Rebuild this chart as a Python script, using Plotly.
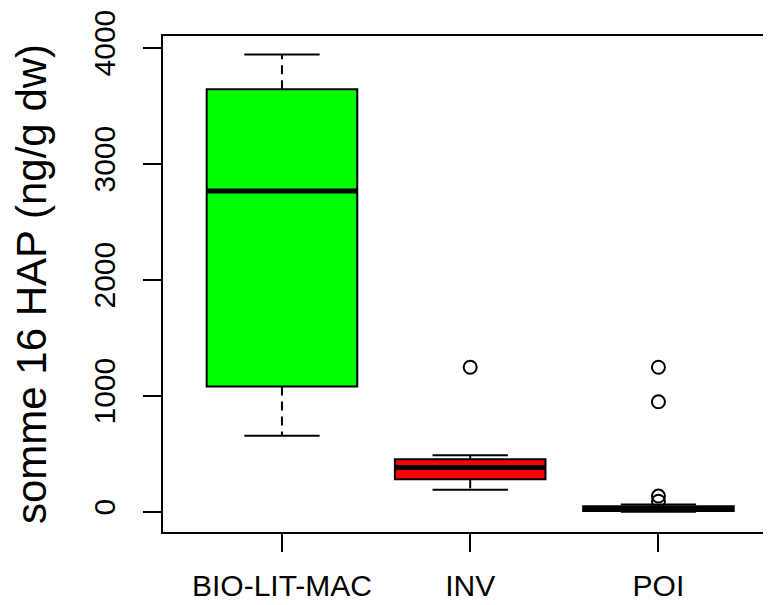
import plotly.graph_objects as go

# summary statistics (ng/g dw)
categories = ["BIO-LIT-MAC", "INV", "POI"]
box_colors = ["#00ff00", "#ff0000", "#0000ff"]
lower_whisker = [655, 190, 0]
q1 = [1078, 279, 5]
median = [2765, 381, 22]
q3 = [3641, 451, 48]
upper_whisker = [3940, 486, 63]

outlier_group = ["INV", "POI", "POI", "POI", "POI"]
outlier_value = [1245, 1245, 947, 135, 90]

y_ticks = [0, 1000, 2000, 3000, 4000]

BOX_HALF = 0.4
CAP_HALF = 0.2
FONT = "Liberation Sans, Arial, sans-serif"

pos = {c: i + 1 for i, c in enumerate(categories)}
xs = [pos[c] for c in categories]

fig = go.Figure()

# whiskers (dashed) and staples
wx, wy, cx, cy = [], [], [], []
for c, lo, a, b, hi in zip(categories, lower_whisker, q1, q3, upper_whisker):
    p = pos[c]
    wx += [p, p, None, p, p, None]
    wy += [b, hi, None, a, lo, None]
    cx += [p - CAP_HALF, p + CAP_HALF, None, p - CAP_HALF, p + CAP_HALF, None]
    cy += [hi, hi, None, lo, lo, None]

fig.add_trace(go.Scatter(x=wx, y=wy, mode="lines",
                         line=dict(color="black", width=2, dash="9px,6px"),
                         hoverinfo="skip"))
fig.add_trace(go.Scatter(x=cx, y=cy, mode="lines",
                         line=dict(color="black", width=2), hoverinfo="skip"))

# boxes
fig.add_trace(go.Bar(
    x=xs,
    y=[b - a for a, b in zip(q1, q3)],
    base=q1,
    width=2 * BOX_HALF,
    marker=dict(color=box_colors, line=dict(color="black", width=2)),
    hoverinfo="skip",
))

# medians
mx, my = [], []
for c, m in zip(categories, median):
    p = pos[c]
    mx += [p - BOX_HALF, p + BOX_HALF, None]
    my += [m, m, None]
fig.add_trace(go.Scatter(x=mx, y=my, mode="lines",
                         line=dict(color="black", width=5), hoverinfo="skip"))

# outliers
fig.add_trace(go.Scatter(
    x=[pos[g] for g in outlier_group],
    y=outlier_value,
    mode="markers",
    marker=dict(symbol="circle-open", size=13, color="black",
                line=dict(color="black", width=2)),
))

# page body has an 8px margin, so the figure is sized to end at the window edge
fig.update_layout(
    width=763,
    height=597,
    margin=dict(l=155, r=0, t=28, b=73),
    plot_bgcolor="white",
    paper_bgcolor="white",
    showlegend=False,
    font=dict(family=FONT, color="black"),
    xaxis=dict(
        range=[0.368, 3.598],
        tickvals=xs,
        ticktext=categories,
        ticks="outside",
        ticklen=18,
        tickwidth=2,
        tickcolor="black",
        showline=True,
        linewidth=2,
        linecolor="black",
        mirror=True,
        showgrid=False,
        zeroline=False,
        tickfont=dict(size=30),
        ticklabelstandoff=8,
    ),
    yaxis=dict(
        range=[-175, 4100],
        tickvals=y_ticks,
        ticktext=[str(v) for v in y_ticks],
        tickangle=-90,
        ticks="outside",
        ticklen=18,
        tickwidth=2,
        tickcolor="black",
        showline=True,
        linewidth=2,
        linecolor="black",
        showgrid=False,
        zeroline=False,
        tickfont=dict(size=30),
        ticklabelstandoff=16,
        title=dict(text="somme 16 HAP (ng/g dw)", font=dict(size=42), standoff=30),
    ),
)

fig.write_html("out.html")
